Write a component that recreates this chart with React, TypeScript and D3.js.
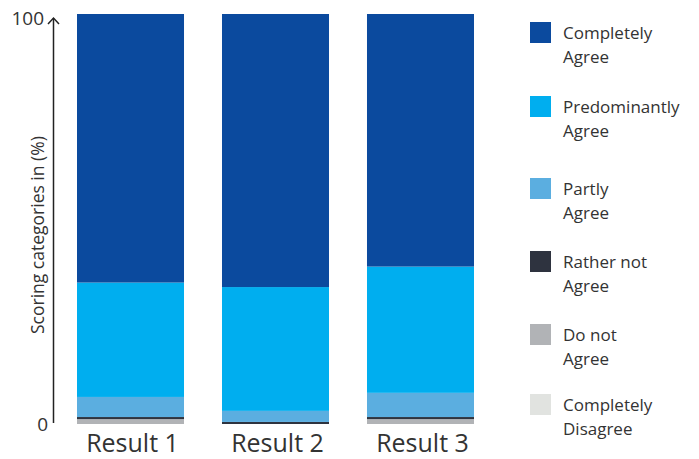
import React from "react";
import * as d3 from "d3";

// Results shown on the x axis
const categories = ["Result 1", "Result 2", "Result 3"];

// Share of answers per scoring category, in percent, for each result
const completelyAgree = [65.5, 66.6, 61.6];
const predominantlyAgree = [27.9, 30.2, 30.8];
const partlyAgree = [4.9, 2.7, 5.9];
const ratherNotAgree = [0.5, 0.5, 0.5];
const doNotAgree = [1.2, 0, 1.2];
const completelyDisagree = [0, 0, 0];

// Legend labels (two lines each), top to bottom
const legendLabels = [
  ["Completely", "Agree"],
  ["Predominantly", "Agree"],
  ["Partly", "Agree"],
  ["Rather not", "Agree"],
  ["Do not", "Agree"],
  ["Completely", "Disagree"],
];

const yTickLabels = ["0", "100"];
const yAxisTitle = "Scoring categories in (%)";

const seriesKeys = ["ca", "pa", "pt", "rn", "dn", "cd"];
const seriesValues = [
  completelyAgree,
  predominantlyAgree,
  partlyAgree,
  ratherNotAgree,
  doNotAgree,
  completelyDisagree,
];
const colors = ["#0B4A9E", "#00AEEF", "#5BAEE0", "#2E333F", "#B1B3B6", "#E1E3E0"];

// Vertical position of each legend swatch
const legendY = [22, 96, 178, 251, 324, 394];

const W = 699;
const H = 459;
const FONT = "'Open Sans', 'DejaVu Sans', sans-serif";
const TEXT = "#333333";

export default function App() {
  const rows = categories.map((c, i) => {
    const r: Record<string, any> = { cat: c };
    seriesKeys.forEach((k, j) => (r[k] = seriesValues[j][i]));
    return r;
  });

  // stack from the bottom: most negative category first
  const stackOrder = [...seriesKeys].reverse();
  const stacked = d3.stack<any>().keys(stackOrder)(rows);

  const x = d3
    .scaleBand<string>()
    .domain(categories)
    .range([77, 474])
    .paddingInner(0.262)
    .paddingOuter(0);
  const y = d3.scaleLinear().domain([0, 100]).range([424, 14]);

  const axisX = 53.5;

  return (
    <svg
      width={W}
      height={H}
      style={{ position: "absolute", left: 0, top: 0, background: "#fff" }}
      fontFamily={FONT}
    >
      {stacked.map((layer) => {
        const idx = seriesKeys.indexOf(layer.key);
        return (
          <g key={layer.key} fill={colors[idx]}>
            {layer.map((d, i) => {
              const h = y(d[0]) - y(d[1]);
              if (h <= 0) return null;
              return (
                <rect
                  key={i}
                  x={x(categories[i])}
                  y={y(d[1])}
                  width={x.bandwidth()}
                  height={h}
                />
              );
            })}
          </g>
        );
      })}

      {/* y axis with arrowhead */}
      <line x1={axisX} x2={axisX} y1={y(100) + 4} y2={y(0) - 1} stroke="#222" strokeWidth={1.5} />
      <polyline
        points={`${axisX - 5.5},${y(100) + 10} ${axisX},${y(100) + 4} ${axisX + 5.5},${y(100) + 10}`}
        fill="none"
        stroke="#222"
        strokeWidth={1.5}
      />
      <text x={44} y={y(100) + 11} textAnchor="end" fontSize={19} fill={TEXT}>
        {yTickLabels[1]}
      </text>
      <text x={48} y={y(0) + 7} textAnchor="end" fontSize={19} fill={TEXT}>
        {yTickLabels[0]}
      </text>
      <text
        transform={`translate(44, 334) rotate(-90)`}
        textAnchor="start"
        fontSize={17.5}
        fill={TEXT}
      >
        {yAxisTitle}
      </text>

      {/* category labels */}
      {categories.map((c) => (
        <text
          key={c}
          x={(x(c) as number) + x.bandwidth() / 2 + 2}
          y={452}
          textAnchor="middle"
          fontSize={25}
          fill={TEXT}
        >
          {c}
        </text>
      ))}

      {/* legend */}
      {legendLabels.map((lines, i) => (
        <g key={i} transform={`translate(530, ${legendY[i]})`}>
          <rect width={21} height={21} fill={colors[i]} />
          <text x={33} y={17} fontSize={17} fill={TEXT}>
            {lines[0]}
          </text>
          <text x={33} y={41} fontSize={17} fill={TEXT}>
            {lines[1]}
          </text>
        </g>
      ))}
    </svg>
  );
}
